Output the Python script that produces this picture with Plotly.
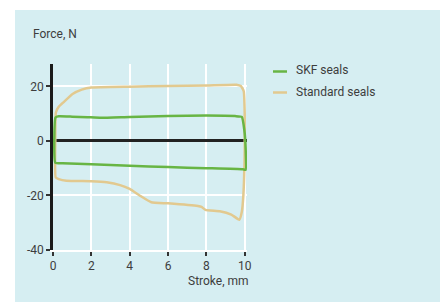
import plotly.graph_objects as go

# SKF seals hysteresis loop (stroke mm, force N)
skf_x = [0.12, 0.13, 0.3, 1.0, 1.8, 2.5, 4.0, 6.0, 8.0, 9.5, 9.85, 9.98, 10.05, 10.05, 9.9, 8.0, 6.0, 4.0, 2.0, 0.5, 0.12]
skf_y = [-8.0, 8.6, 9.0, 8.9, 8.7, 8.5, 8.8, 9.1, 9.3, 9.1, 8.8, 4.0, -3.0, -10.6, -10.4, -10.0, -9.6, -9.1, -8.6, -8.2, -8.0]

# Standard seals hysteresis loop
std_x = [0.14, 0.12, 0.15, 0.3, 0.52, 1.04, 1.5, 2.0, 4.0, 6.0, 8.0, 9.57, 9.8, 9.95, 10.0, 10.0, 9.93, 9.85, 9.72,
         9.3, 8.7, 7.95, 7.75, 7.56, 6.0, 5.13, 4.52, 4.0, 3.5, 2.8, 2.0, 0.7, 0.3, 0.14]
std_y = [-13.4, 0.0, 10.4, 12.5, 14.0, 17.3, 18.8, 19.6, 19.9, 20.1, 20.3, 20.6, 20.1, 18.2, 10.0, -3.0, -20.0, -26.0, -28.9,
         -27.0, -25.8, -25.3, -24.2, -23.9, -22.9, -22.5, -20.0, -17.6, -16.2, -15.2, -14.8, -14.6, -14.0, -13.4]

series_names = ["SKF seals", "Standard seals"]
series_colors = ["#68b544", "#e2c98f"]

x_ticks = [0, 2, 4, 6, 8, 10]
x_ticklabels = ["0", "2", "4", "6", "8", "10"]
y_ticks = [-40, -20, 0, 20]
y_ticklabels = ["-40", "-20", "0", "20"]

BG = "#d6eef2"
TXT = "#3d3d3d"
FONT = "Roboto"

fig = go.Figure()
fig.add_trace(go.Scatter(x=std_x, y=std_y, mode="lines", name=series_names[1],
                         line=dict(color=series_colors[1], width=2.5, shape="spline", smoothing=0.4),
                         showlegend=False))
fig.add_trace(go.Scatter(x=skf_x, y=skf_y, mode="lines", name=series_names[0],
                         line=dict(color=series_colors[0], width=2.5, shape="spline", smoothing=0.4),
                         showlegend=False))

# figure is placed at (8, 8) in the page (body margin); helpers map page pixel -> paper
OFF = 8
FW, FH = 440, 294
L, R, T, B = 45, 201, 56, 52
W, H = FW - L - R, FH - T - B
px = lambda p: (p - OFF - L) / W
py = lambda p: (FH - B - (p - OFF)) / H

shapes = [dict(type="rect", xref="paper", yref="paper", x0=px(15), x1=px(460), y0=py(320), y1=py(10),
               fillcolor=BG, line=dict(width=0), layer="below")]
annotations = [
    dict(text="Force, N", xref="paper", yref="paper", x=px(31), y=py(34), xanchor="left", yanchor="middle",
         showarrow=False, font=dict(family=FONT, size=12, color=TXT)),
    dict(text="Stroke, mm", xref="paper", yref="paper", x=px(251), y=py(281), xanchor="right", yanchor="middle",
         showarrow=False, font=dict(family=FONT, size=12, color=TXT)),
]
for i, (nm, col) in enumerate(zip(series_names, series_colors)):
    yc = 71.5 + i * 21
    shapes.append(dict(type="line", xref="paper", yref="paper", x0=px(273), x1=px(287), y0=py(yc), y1=py(yc),
                       line=dict(color=col, width=2.5)))
    annotations.append(dict(text=nm, xref="paper", yref="paper", x=px(294), y=py(yc - 1), xanchor="left",
                            yanchor="middle", showarrow=False, font=dict(family=FONT, size=12, color=TXT)))

fig.update_layout(
    width=FW, height=FH,
    margin=dict(l=L, r=R, t=T, b=B),
    paper_bgcolor="white", plot_bgcolor="rgba(0,0,0,0)",
    shapes=shapes, annotations=annotations,
    font=dict(family=FONT, size=12, color=TXT),
)
fig.update_xaxes(range=[0, 10.12], tickvals=x_ticks, ticktext=x_ticklabels,
                 showgrid=True, gridcolor="white", gridwidth=1.5,
                 showline=True, linecolor="white", linewidth=1.5,
                 ticks="outside", ticklen=4, tickwidth=1.5, tickcolor="#333",
                 zeroline=False, tickfont=dict(family=FONT, size=12, color=TXT))
fig.update_yaxes(range=[-40, 28.2], tickvals=y_ticks, ticktext=y_ticklabels,
                 showgrid=True, gridcolor="white", gridwidth=1.5,
                 showline=True, linecolor="#1a1a1a", linewidth=2.5,
                 ticks="outside", ticklen=4, tickwidth=1.5, tickcolor="#333",
                 zeroline=True, zerolinecolor="#222", zerolinewidth=2.5,
                 tickfont=dict(family=FONT, size=12, color=TXT))

fig.write_html("out.html")
